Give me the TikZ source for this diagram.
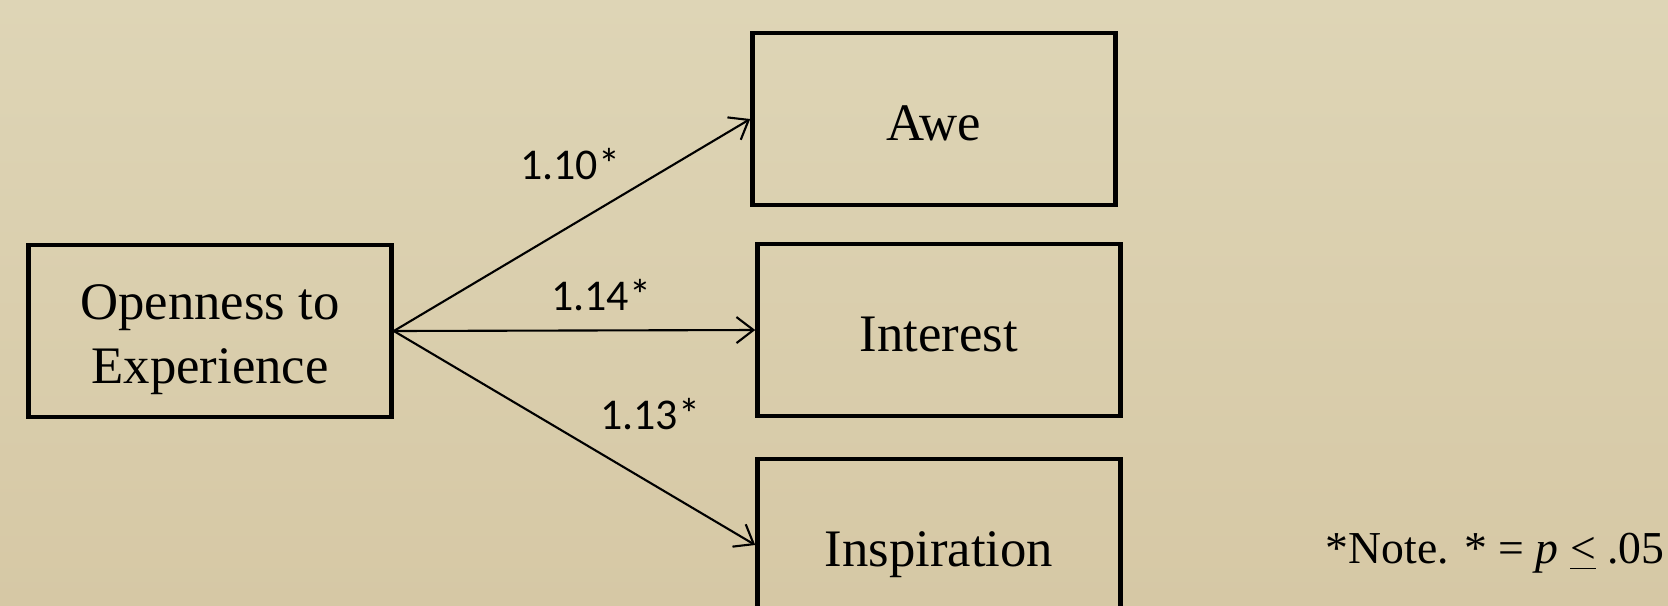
\documentclass[tikz,border=0pt]{standalone}
\usepackage{fontspec}
\setmainfont{Liberation Serif}
\newfontfamily\calibri{Carlito}
\usetikzlibrary{arrows.meta,positioning}
\definecolor{bgtop}{RGB}{222,213,182}
\definecolor{bgbot}{RGB}{214,200,165}

\begin{document}
\begin{tikzpicture}[
  var/.style={draw,rectangle,line width=1.3pt,minimum width=3.63cm,minimum height=1.72cm,
    align=center,font=\fontsize{15}{18.2}\selectfont,text height=14pt,text depth=1.9pt},
  path/.style={line width=0.6pt,-{Straight Barb[length=1.7mm,width=2.6mm]}},
  coef/.style={font=\calibri\fontsize{12.5}{15}\selectfont}]
\clip (0,0) rectangle (16.68,6.05);
\shade[top color=bgtop,bottom color=bgbot] (0,0) rectangle (16.68,6.05);
\node[var,text height=31pt,text depth=1.4pt] (open) at (2.10,2.74) {Openness to\\Experience};
\node[var] (awe) at (9.34,4.86) {Awe};
\node[var] (interest) at (9.39,2.75) {Interest};
\node[var] (inspire) at (9.39,0.60) {Inspiration};
\draw[path] (open.east) -- (awe.west);
\draw[path] (open.east) -- (interest.west);
\draw[path] (open.east) -- (inspire.west);
\node[coef] (c1) at (5.70,4.41) {1.10*};
\node[coef] (c2) at (6.01,3.10) {1.14*};
\node[coef] (c3) at (6.50,1.91) {1.13*};
\node[anchor=east,inner sep=0pt,font=\fontsize{13}{15}\selectfont] (note) at (16.65,0.52)
  {*Note. * = \textit{p} \underline{<} .05};
\end{tikzpicture}
\end{document}
